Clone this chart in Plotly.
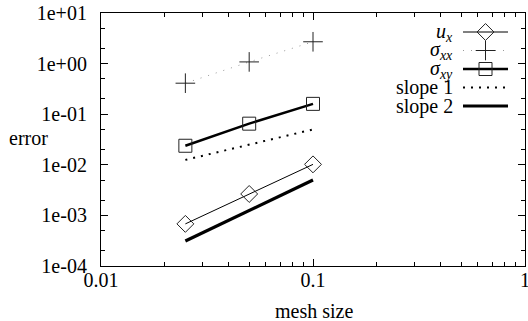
import plotly.graph_objects as go

# ---- data ----
mesh = [0.025, 0.05, 0.1]
err_ux = [6.8e-4, 2.65e-3, 1.02e-2]
err_sxx = [0.41, 1.08, 2.7]
err_sxy = [0.0238, 0.065, 0.16]
slope1 = [0.0125, 0.025, 0.05]
slope2 = [3.125e-4, 1.25e-3, 5.0e-3]

legend_labels = ["<i>u</i><sub><i>x</i></sub>",
                 "<i>σ</i><sub><i>xx</i></sub>",
                 "<i>σ</i><sub><i>xy</i></sub>",
                 "slope 1", "slope 2"]

y_tickvals = [1e-4, 1e-3, 1e-2, 1e-1, 1e0, 1e1]
y_ticktext = ["1e-04", "1e-03", "1e-02", "1e-01", "1e+00", "1e+01"]
y_minor = [m * 10**e for e in range(-4, 1) for m in (2, 5)]
x_tickvals = [0.01, 0.1, 1]
x_ticktext = ["0.01", "0.1", "1"]
x_minor = [m * 10**e for e in (-2, -1) for m in range(2, 10)]

FONT = "Liberation Serif"
FS = 20
W, H = 528, 321
ML, MR, MT, MB = 101, 3, 13, 55
PW, PH = W - ML - MR, H - MT - MB


def px(xp):
    return (xp - ML) / PW


def py(yp):
    return 1 - (yp - MT) / PH


row_y = [32, 50.5, 69, 87.5, 106]

fig = go.Figure()
styles = [
    dict(mode="lines+markers", line=dict(color="black", width=1),
         marker=dict(symbol="diamond-open", size=13, color="#222", line=dict(width=1))),
    dict(mode="lines+markers", line=dict(color="#999", width=1, dash="1px,7px"),
         marker=dict(symbol="cross-thin-open", size=14, color="#222",
                     line=dict(width=1, color="#222"))),
    dict(mode="lines+markers", line=dict(color="black", width=2.5),
         marker=dict(symbol="square-open", size=13, color="#222", line=dict(width=1))),
    dict(mode="lines", line=dict(color="black", width=2, dash="2px,6px")),
    dict(mode="lines", line=dict(color="black", width=3.2)),
]
series = [err_ux, err_sxx, err_sxy, slope1, slope2]
legend_names = ["legend", "legend2", "legend3", "legend4", "legend5"]
for ys, st, lg in zip(series, styles, legend_names):
    fig.add_trace(go.Scatter(x=mesh, y=ys, name="", legend=lg, **st))

annots = []
for lab, yy in zip(legend_labels, row_y):
    annots.append(dict(text=lab, xref="paper", yref="paper",
                       x=px(455), y=py(yy),
                       xanchor="right", yanchor="middle", showarrow=False,
                       font=dict(family=FONT, size=FS, color="black")))
annots.append(dict(text="error", xref="paper", yref="paper",
                   x=px(50), y=py(138),
                   xanchor="right", yanchor="middle", showarrow=False,
                   font=dict(family=FONT, size=FS, color="black")))
annots.append(dict(text="mesh size", xref="paper", yref="paper",
                   x=px(314), y=py(311),
                   xanchor="center", yanchor="middle", showarrow=False,
                   font=dict(family=FONT, size=FS, color="black")))

axis_common = dict(type="log", showgrid=False, zeroline=False, automargin=False,
                   showline=True, linecolor="black", linewidth=1.2,
                   mirror="ticks", ticks="inside", ticklen=7, tickcolor="black",
                   ticklabeloverflow="allow",
                   tickfont=dict(family=FONT, size=FS, color="black"))

legend_layout = {}
for lg, yy in zip(legend_names, row_y):
    legend_layout[lg] = dict(x=px(458), y=py(yy), xanchor="left", yanchor="middle",
                             bgcolor="rgba(255,255,255,0)", borderwidth=0,
                             font=dict(family=FONT, size=10), itemwidth=45)

fig.update_layout(
    width=W, height=H,
    margin=dict(l=ML, r=MR, t=MT, b=MB, autoexpand=False),
    plot_bgcolor="white", paper_bgcolor="white",
    showlegend=True,
    annotations=annots,
    xaxis=dict(**axis_common, range=[-2, 0], tickvals=x_tickvals, ticktext=x_ticktext,
               minor=dict(tickvals=x_minor, ticks="inside", ticklen=4, tickcolor="black",
                          showgrid=False),
               ticklabelstandoff=-4),
    yaxis=dict(**axis_common, range=[-4, 1], tickvals=y_tickvals, ticktext=y_ticktext,
               minor=dict(tickvals=y_minor, ticks="inside", ticklen=4, tickcolor="black",
                          showgrid=False),
               ticklabelstandoff=9),
    **legend_layout,
)

fig.write_html("out.html", config={"displayModeBar": False},
               post_script="document.body.style.margin='0';")
